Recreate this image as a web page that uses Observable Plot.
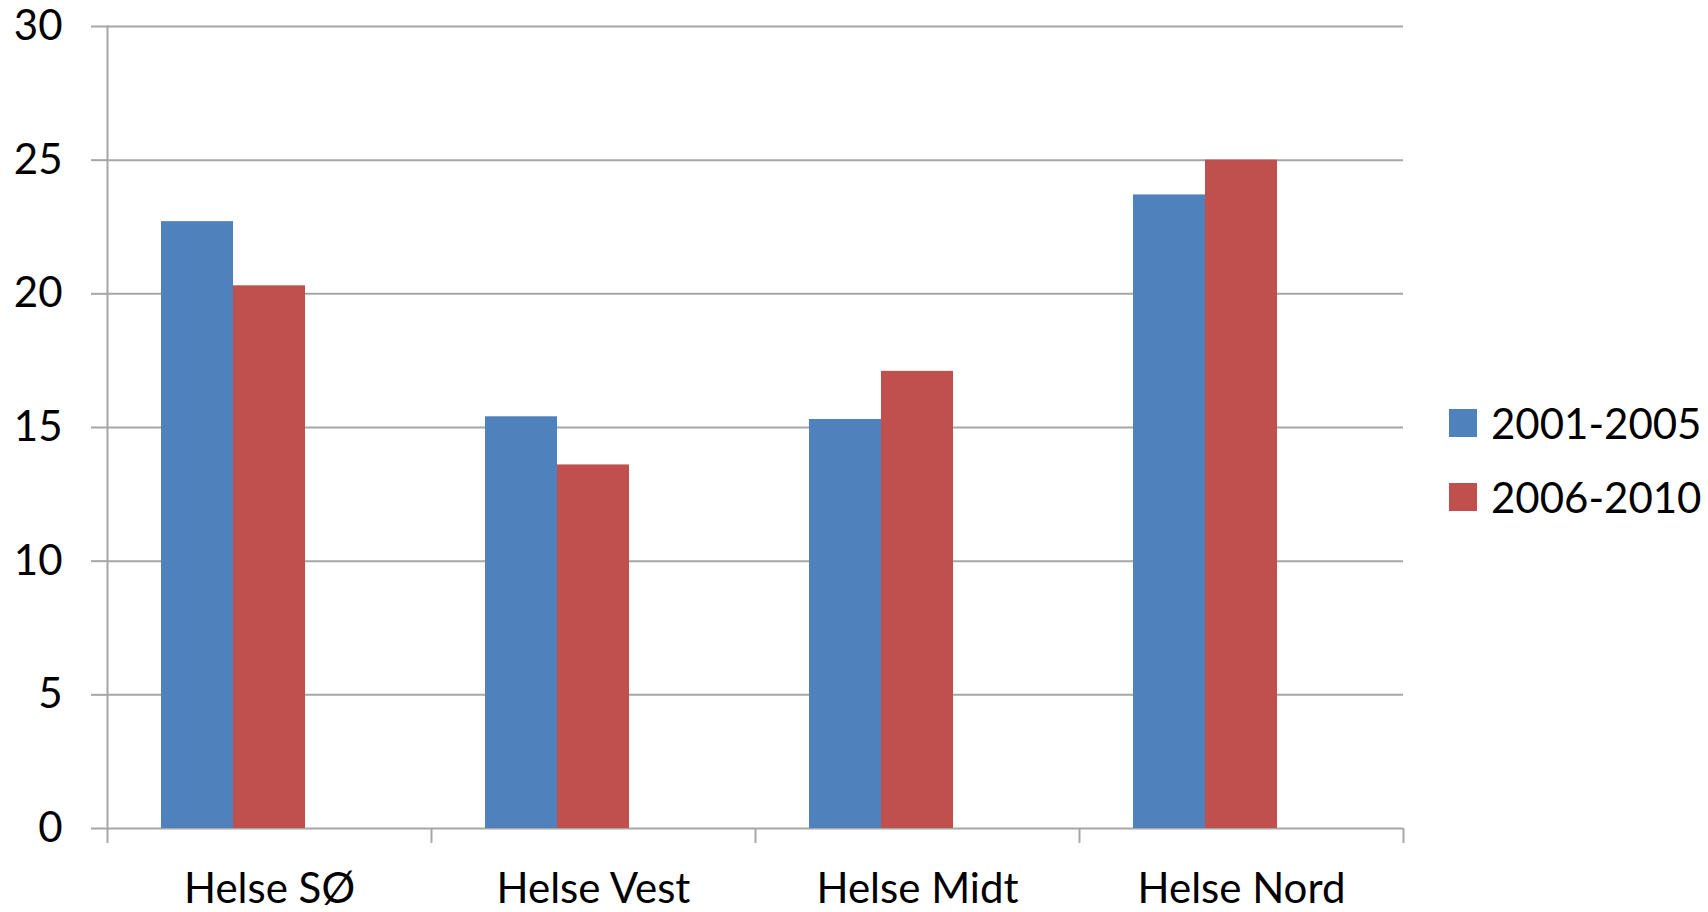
<!DOCTYPE html>
<html><head><meta charset="utf-8">
<script src="https://cdn.jsdelivr.net/npm/d3@7"></script>
<script src="https://cdn.jsdelivr.net/npm/@observablehq/plot@0.6"></script>
<style>
body{margin:0;background:#fff;font-family:Lato, sans-serif;}
#wrap{position:relative;width:1708px;height:912px;overflow:hidden;}
#legend{position:absolute;left:1449px;top:386px;font-family:Lato, sans-serif;font-size:42px;color:#000;}
.row{display:flex;align-items:center;height:74px;}
.sw{width:28px;height:28px;margin-right:14px;flex:none;}
</style></head><body><div id="wrap"></div>
<script>
const regions = ["Helse SØ", "Helse Vest", "Helse Midt", "Helse Nord"];
const series = ["2001-2005", "2006-2010"];
const values2001_2005 = [22.7, 15.4, 15.3, 23.7];
const values2006_2010 = [20.3, 13.6, 17.1, 25.0];
const colors = ["#4f81bd", "#c0504d"];
const yTicks = [0, 5, 10, 15, 20, 25, 30];

const data = regions.flatMap((r, i) => [
  {region: r, series: series[0], value: values2001_2005[i]},
  {region: r, series: series[1], value: values2006_2010[i]}
]);

const W = 1708, H = 912, mL = 107, mR = 305, mT = 26, mB = 84;
const band = (W - mL - mR) / regions.length;
const grid = "#a6a6a6";

const chart = Plot.plot({
  width: W, height: H,
  marginLeft: mL, marginRight: mR, marginTop: mT, marginBottom: mB,
  style: {fontFamily: "Lato, sans-serif", fontSize: "42px", color: "#000", background: "#fff"},
  fx: {domain: regions, padding: 0, label: null},
  x: {domain: [...series, " "], paddingInner: 0, paddingOuter: 0.75, axis: null},
  y: {domain: [0, 30], label: null},
  color: {domain: series, range: colors},
  marks: [
    Plot.ruleY(yTicks, {stroke: grid, strokeWidth: 2}),
    Plot.frame({anchor: "left", facetAnchor: "left", stroke: grid, strokeWidth: 2}),
    Plot.barY(data, {fx: "region", x: "series", y: "value", fill: "series"}),
    Plot.axisY({ticks: yTicks, tickSize: 16, tickPadding: 29, stroke: grid, strokeWidth: 2, strokeOpacity: 1, fill: "#000", fontSize: 42, label: null}),
    Plot.axisFx({anchor: "bottom", tickSize: 0, tickPadding: 45, fill: "#000", fontSize: 42, label: null}),
    Plot.axisFx({anchor: "bottom", tickSize: 15, tickFormat: () => "", dx: -band / 2, stroke: grid, strokeWidth: 2, strokeOpacity: 1, label: null}),
    Plot.axisFx({anchor: "bottom", ticks: [regions[regions.length - 1]], tickSize: 15, tickFormat: () => "", dx: band / 2, stroke: grid, strokeWidth: 2, strokeOpacity: 1, label: null})
  ]
});

const wrap = document.getElementById("wrap");
wrap.appendChild(chart);
const legend = document.createElement("div");
legend.id = "legend";
series.forEach((s, i) => {
  const row = document.createElement("div");
  row.className = "row";
  const sw = document.createElement("div");
  sw.className = "sw";
  sw.style.background = colors[i];
  const t = document.createElement("span");
  t.textContent = s;
  row.appendChild(sw);
  row.appendChild(t);
  legend.appendChild(row);
});
wrap.appendChild(legend);
</script>
</body></html>
